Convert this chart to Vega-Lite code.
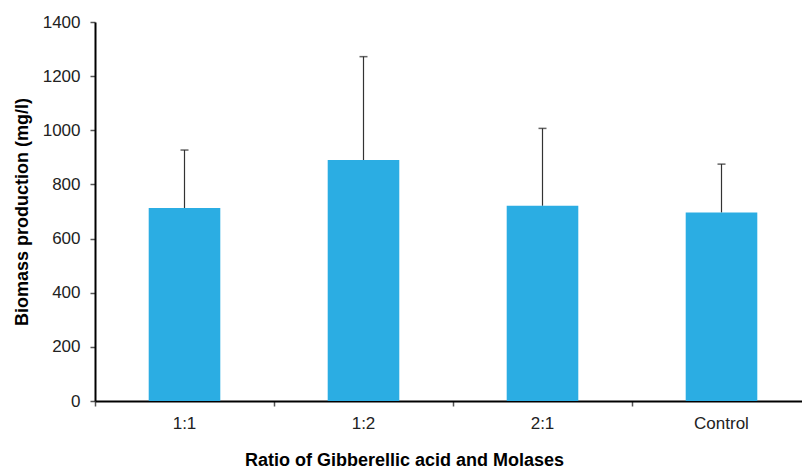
{
  "$schema": "https://vega.github.io/schema/vega-lite/v6.json",
  "width": 707,
  "height": 379,
  "autosize": "none",
  "padding": {"left": 95, "top": 22, "right": 0, "bottom": 67},
  "background": "white",
  "data": {"values": [
    {"ratio": "1:1", "biomass": 713, "upper": 927},
    {"ratio": "1:2", "biomass": 890, "upper": 1272},
    {"ratio": "2:1", "biomass": 721, "upper": 1007},
    {"ratio": "Control", "biomass": 696, "upper": 875}
  ]},
  "config": {
    "view": {"stroke": null},
    "font": "Liberation Sans",
    "axis": {
      "domainColor": "black", "domainWidth": 2, "tickColor": "#555", "tickWidth": 1.5,
      "labelFont": "Liberation Sans", "labelFontSize": 17, "labelColor": "#222",
      "titleFont": "Liberation Sans", "titleFontWeight": "bold", "titleColor": "black",
      "grid": false
    }
  },
  "encoding": {
    "x": {
      "field": "ratio", "type": "nominal", "sort": null,
      "scale": {"paddingInner": 0, "paddingOuter": 0, "range": [0, 716]},
      "axis": {"title": "Ratio of Gibberellic acid and Molases", "titleFontSize": 18, "titleX": 309, "titleAnchor": "start", "titleAlign": "center", "labelAngle": 0, "bandPosition": 0, "tickSize": 5, "labelPadding": 9, "titlePadding": 20}
    }
  },
  "layer": [
    {
      "mark": {"type": "rule", "color": "#333", "strokeWidth": 1.2},
      "encoding": {
        "y": {"field": "biomass", "type": "quantitative"},
        "y2": {"field": "upper"}
      }
    },
    {
      "mark": {"type": "bar", "color": "#2BADE3", "width": {"band": 0.4}},
      "encoding": {
        "y": {
          "field": "biomass", "type": "quantitative",
          "scale": {"domain": [0, 1400]},
          "axis": {"title": "Biomass production (mg/l)", "titleFontSize": 18, "titleX": -73, "titleBaseline": "middle", "format": "d", "values": [0, 200, 400, 600, 800, 1000, 1200, 1400], "tickSize": 5, "labelPadding": 10}
        }
      }
    },
    {
      "mark": {"type": "tick", "color": "#222", "size": 8, "thickness": 1.5},
      "encoding": {
        "y": {"field": "upper", "type": "quantitative"}
      }
    }
  ]
}
